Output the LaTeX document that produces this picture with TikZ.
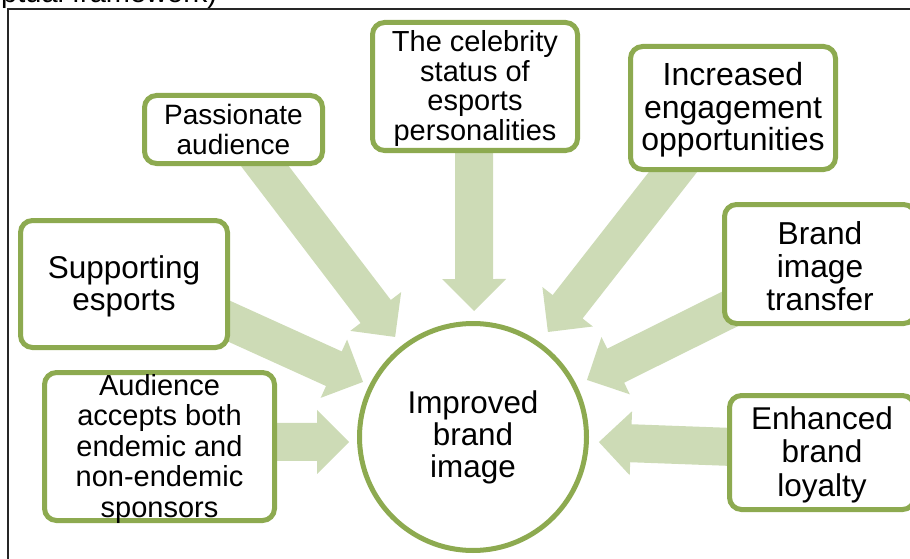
\documentclass[tikz,border=0pt]{standalone}
\usepackage{fontspec}
\setmainfont{Liberation Sans}
\usetikzlibrary{calc,backgrounds}

\definecolor{boxgreen}{RGB}{141,170,80}
\definecolor{arrowgreen}{RGB}{205,219,182}

\newcommand{\fsz}[2]{\fontsize{#1pt}{#2pt}\selectfont}

% broad block arrow from a tail point to a tip point
\newcommand{\blockarrow}[2]{%
  \coordinate (ba-h) at ($(#2)!32pt!(#1)$);
  \fill[flowarrow] ($(#1)!19pt!90:(#2)$) -- ($(ba-h)!19pt!90:(#2)$)
    -- ($(ba-h)!32pt!90:(#2)$) -- (#2) -- ($(ba-h)!32pt!-90:(#2)$)
    -- ($(ba-h)!19pt!-90:(#2)$) -- ($(#1)!19pt!-90:(#2)$) -- cycle;}

\tikzset{
  factor/.style={draw=boxgreen, line width=5pt, rounded corners=12pt, fill=white, inner sep=0pt},
  outcome/.style={circle, draw=boxgreen, line width=5pt, fill=white, minimum size=227pt, inner sep=0pt},
  plain/.style={align=center, inner sep=0pt, text=black},
  lbl/.style={plain, yshift=-2pt},
  flowarrow/.style={fill=arrowgreen},
  frameline/.style={line width=2pt, black!85},
}

\begin{document}
\begin{tikzpicture}[x=1pt, y=1pt]
\useasboundingbox (0,0) rectangle (910,-559);

% caption remnant and frame
\node[plain, anchor=base west, font=\fsz{29}{30}] (cap) at (1,-2.5) {ptual framework)};
\draw[frameline] (8,-620) -- (8,-9) -- (930,-9);

% central outcome
\node[outcome] (imp) at (473,-437) {};
\node[plain, font=\fsz{31.4}{32}] at (imp) {Improved\\brand\\image};

% factor boxes
\node[factor, minimum width=178pt, minimum height=68pt] (pa) at (233.5,-129.5) {};
\node[plain, font=\fsz{28}{30}] at (pa) {Passionate\\audience};

\node[factor, minimum width=205pt, minimum height=128pt] (ce) at (475,-86.5) {};
\node[lbl, font=\fsz{29}{29.5}] at (ce) {The celebrity\\status of\\esports\\personalities};

\node[factor, minimum width=205pt, minimum height=123pt] (en) at (733,-108) {};
\node[lbl, font=\fsz{32}{32.5}] at (en) {Increased\\engagement\\opportunities};

\node[factor, minimum width=207pt, minimum height=127pt] (su) at (124,-284) {};
\node[lbl, font=\fsz{31.5}{32}] at (su) {Supporting\\esports};

\node[factor, minimum width=191pt, minimum height=119pt] (br) at (820,-264) {};
\node[lbl, font=\fsz{31.7}{33}] at (br) {Brand\\image\\transfer};

\node[factor, minimum width=230pt, minimum height=148pt] (au) at (159.5,-446.5) {};
\node[lbl, font=\fsz{29}{30.5}] at (au) {Audience\\accepts both\\endemic and\\non-endemic\\sponsors};

\node[factor, minimum width=185pt, minimum height=114pt] (lo) at (822,-452.5) {};
\node[lbl, font=\fsz{31.5}{33.5}] at (lo) {Enhanced\\brand\\loyalty};

% arrow tails inside the boxes, tips just outside the circle
\coordinate (pa-tail) at ($(pa.center)+(11.5,-10.5)$);
\coordinate (ce-tail) at ($(ce.center)+(-1,-43.5)$);
\coordinate (en-tail) at ($(en.center)+(-35,-32)$);
\coordinate (su-tail) at ($(su.center)+(76,-24)$);
\coordinate (au-tail) at ($(au.center)+(90.5,4.5)$);
\coordinate (br-tail) at ($(br.center)+(-60,-30)$);
\coordinate (lo-tail) at ($(lo.center)+(-62,4.5)$);

\coordinate (pa-tip) at ($(imp.center)+(127.9:126.8)$);
\coordinate (ce-tip) at ($(imp.center)+(89.5:126)$);
\coordinate (en-tip) at ($(imp.center)+(54.5:129)$);
\coordinate (su-tip) at ($(imp.center)+(153.4:123)$);
\coordinate (au-tip) at ($(imp.center)+(182.3:124)$);
\coordinate (br-tip) at ($(imp.center)+(26.6:127.5)$);
\coordinate (lo-tip) at ($(imp.center)+(-2.3:126)$);

\begin{scope}[on background layer]
  \blockarrow{pa-tail}{pa-tip}
  \blockarrow{ce-tail}{ce-tip}
  \blockarrow{en-tail}{en-tip}
  \blockarrow{su-tail}{su-tip}
  \blockarrow{au-tail}{au-tip}
  \blockarrow{br-tail}{br-tip}
  \blockarrow{lo-tail}{lo-tip}
\end{scope}
\end{tikzpicture}
\end{document}
